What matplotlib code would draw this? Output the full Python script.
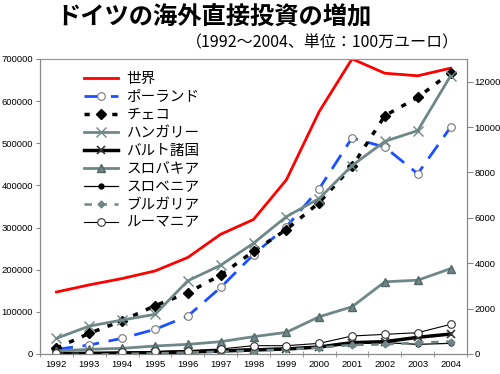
import matplotlib
matplotlib.use("Agg")
import matplotlib.pyplot as plt

plt.rcParams["font.family"] = ["Noto Sans CJK JP", "DejaVu Sans"]

years = ["1992", "1993", "1994", "1995", "1996", "1997", "1998",
         "1999", "2000", "2001", "2002", "2003", "2004"]

# left axis (world total)
world = [147000, 164000, 179000, 197000, 229000, 284000, 319000,
         413000, 575000, 700000, 666000, 660000, 678000]

# right axis (individual countries)
poland = [205, 396, 690, 1085, 1670, 2930, 4380, 5600, 7280, 9520, 9110, 7940, 9990]
czech = [260, 910, 1465, 2125, 2700, 3475, 4520, 5480, 6670, 8260, 10500, 11300, 12400]
hungary = [690, 1230, 1495, 1745, 3225, 3910, 4880, 6050, 6850, 8300, 9370, 9840, 12250]
baltic = [20, 30, 40, 60, 90, 130, 176, 220, 308, 499, 543, 733, 880]
slovakia = [132, 205, 249, 352, 425, 542, 763, 953, 1640, 2080, 3180, 3250, 3760]
slovenia = [30, 50, 70, 100, 130, 180, 230, 260, 330, 450, 500, 425, 469]
bulgaria = [10, 20, 30, 50, 70, 100, 150, 200, 280, 400, 420, 500, 550]
romania = [30, 50, 80, 110, 150, 220, 366, 366, 469, 792, 865, 939, 1305]

GRAY = "#6f8787"
x = list(range(len(years)))

fig = plt.figure(figsize=(5.0, 3.74), dpi=100)
ax = fig.add_axes([0.08, 0.0535, 0.854, 0.789])
ax2 = ax.twinx()

h_world, = ax.plot(x, world, color="#ff0000", lw=2, label="世界")

h_pol, = ax2.plot(x, poland, color="#1a50ff", lw=2, dashes=(6, 3.5), marker="o",
                  ms=5.5, mfc="white", mec="#777777", mew=0.8, label="ポーランド")
h_cz, = ax2.plot(x, czech, color="black", lw=2.5, dashes=(1.5, 2.5), marker="D",
                 ms=5, mfc="black", mec="black", label="チェコ")
h_hu, = ax2.plot(x, hungary, color=GRAY, lw=2, marker="x", ms=6.5, mec=GRAY,
                 mew=1, label="ハンガリー")
h_bal, = ax2.plot(x, baltic, color="black", lw=2.5, marker="x", ms=6, mec="#333333",
                  mew=1.2, label="バルト諸国")
h_sk, = ax2.plot(x, slovakia, color=GRAY, lw=2, marker="^", ms=5.5, mfc=GRAY,
                 mec="#556666", label="スロバキア")
h_sl, = ax2.plot(x, slovenia, color="black", lw=0.9, marker="o", ms=3.5,
                 mfc="black", label="スロベニア")
h_bg, = ax2.plot(x, bulgaria, color=GRAY, lw=1.8, dashes=(3, 3), marker="D", ms=3.5,
                 mfc=GRAY, mec=GRAY, label="ブルガリア")
h_ro, = ax2.plot(x, romania, color="black", lw=0.8, marker="o", ms=5.5,
                 mfc="white", mec="#333333", mew=0.8, label="ルーマニア")

ax.set_xlim(-0.5, len(years) - 0.5)
ax.set_ylim(0, 700000)
ax2.set_ylim(0, 13000)

ax.set_yticks(range(0, 700001, 100000))
ax.set_yticklabels([str(v) for v in range(0, 700001, 100000)])
ax2.set_yticks(range(0, 12001, 2000))
ax2.set_yticklabels([str(v) for v in range(0, 12001, 2000)])

ax.set_xticks(x)
ax.set_xticklabels(years)
ax.set_xticks([i - 0.5 for i in range(len(years) + 1)], minor=True)
ax.tick_params(axis="x", which="major", length=0, pad=4)
ax.tick_params(axis="x", which="minor", length=4, direction="inout", color="#888888")

for a in (ax, ax2):
    for lab in a.get_xticklabels() + a.get_yticklabels():
        lab.set_family("Liberation Sans")
        lab.set_fontsize(6.8)
ax.tick_params(axis="y", length=3, color="#888888", pad=2)
ax2.tick_params(axis="y", length=4, color="#888888", pad=1.5)

for a in (ax, ax2):
    for name in ("left", "right", "bottom"):
        a.spines[name].set_color("#888888")
    a.spines["top"].set_color("#8899aa")
    a.spines["top"].set_linestyle((0, (1, 1)))

handles = [h_world, h_pol, h_cz, h_hu, h_bal, h_sk, h_sl, h_bg, h_ro]
ax2.legend(handles=handles, loc="upper left", bbox_to_anchor=(0.09, 0.975),
           frameon=False, fontsize=10.5, handlelength=2.3, labelspacing=0.27,
           handletextpad=0.6, borderaxespad=0)

fig.text(0.428, 0.953, "ドイツの海外直接投資の増加", ha="center", va="center",
         fontsize=17.5, fontweight="bold")
fig.text(0.645, 0.885, "（1992～2004、単位：100万ユーロ）", ha="center", va="center",
         fontsize=11.5)

fig.savefig("out.png", dpi=100)
